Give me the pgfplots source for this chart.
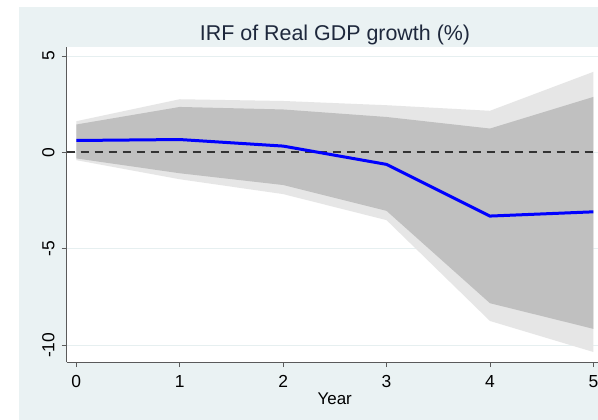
\documentclass[border=0pt]{standalone}
\usepackage{fontspec}
\setmainfont{Liberation Sans}
\usepackage{pgfplots}
\pgfplotsset{compat=1.18}

\definecolor{stbg}{RGB}{234,242,243}
\definecolor{stgrid}{RGB}{230,239,240}
\definecolor{band95}{RGB}{230,230,230}
\definecolor{band68}{RGB}{192,192,192}
\definecolor{axisgray}{RGB}{90,90,90}
\definecolor{titlecol}{RGB}{30,40,60}

\begin{document}
\begin{tikzpicture}
\path[use as bounding box] (0,0) rectangle (598bp,420bp);
\fill[white] (0,0) rectangle (598bp,420bp);
\fill[stbg] (19bp,0) rectangle (598bp,413bp);

\node[anchor=base, text=titlecol, font=\fontsize{21.5}{24}\selectfont]
  at (335bp,379.3bp) {IRF of Real GDP growth (\%)};
\node[anchor=base, font=\fontsize{17}{20}\selectfont] at (334.7bp,16bp) {Year};

\begin{axis}[
  at={(66.7bp,58bp)}, anchor=south west,
  scale only axis, width=531.3bp, height=315bp,
  xmin=-0.093, xmax=5.045, ymin=-10.87, ymax=5.47,
  axis background/.style={fill=white},
  axis x line*=bottom, axis y line*=left,
  axis line style={axisgray, line width=0.9bp, -},
  xtick={0,1,2,3,4,5}, ytick={-10,-5,0,5},
  tick align=outside, major tick length=5bp,
  tick style={axisgray, line width=0.8bp},
  ymajorgrids, grid style={stgrid, line width=1bp},
  /pgf/number format/assume math mode=true,
  ticklabel style={font=\fontsize{17.5}{20}\selectfont, inner sep=0pt},
  xticklabel style={anchor=north},
  yticklabel style={rotate=90, anchor=south},
  xticklabel shift=8bp, yticklabel shift=7bp,
  clip=false,
]
% outer band
\addplot[draw=none, fill=band95] coordinates
  {(0,1.62) (1,2.76) (2,2.67) (3,2.45) (4,2.16) (5,4.18)
   (5,-10.35) (4,-8.74) (3,-3.51) (2,-2.16) (1,-1.39) (0,-0.40)} -- cycle;
% inner band
\addplot[draw=none, fill=band68] coordinates
  {(0,1.45) (1,2.36) (2,2.23) (3,1.84) (4,1.24) (5,2.88)
   (5,-9.15) (4,-7.82) (3,-3.03) (2,-1.69) (1,-1.08) (0,-0.31)} -- cycle;
\addplot[black!80, line width=2bp, dash pattern=on 8bp off 6bp]
  coordinates {(-0.093,0) (5.045,0)};
% irf
\addplot[blue, line width=3bp] coordinates
  {(0,0.62) (1,0.67) (2,0.33) (3,-0.62) (4,-3.30) (5,-3.08)};
\end{axis}
\end{tikzpicture}
\end{document}
